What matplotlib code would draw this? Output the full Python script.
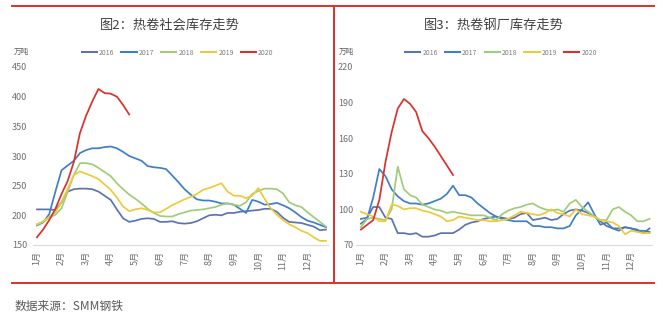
import numpy as np
import matplotlib
matplotlib.use("Agg")
import matplotlib.pyplot as plt
from matplotlib.lines import Line2D

plt.rcParams['font.family'] = ['Noto Sans CJK SC', 'DejaVu Sans']

# weekly samples, x in months from January (step 0.25)
months = ['1月', '2月', '3月', '4月', '5月', '6月', '7月', '8月', '9月', '10月', '11月', '12月']
years = ['2016', '2017', '2018', '2019', '2020']
colors = ['#5b74b0', '#3f7fc4', '#9fcd7a', '#ecca3a', '#d9312b']

# social inventory of hot rolled coil (10k t)
social_2016 = [210, 210, 210, 209, 222, 240, 244, 245, 245, 244, 240, 233,
               226, 210, 195, 189, 191, 194, 195, 194, 189, 189, 190, 187,
               186, 187, 190, 195, 200, 201, 200, 204, 204, 206, 207, 208,
               209, 211, 211, 206, 196, 189, 188, 187, 184, 181, 175, 176]
social_2017 = [183, 188, 202, 240, 276, 284, 292, 305, 310, 313, 313, 315,
               316, 313, 307, 300, 296, 292, 283, 281, 280, 278, 267, 256,
               244, 235, 227, 225, 225, 223, 220, 220, 218, 211, 204, 226,
               223, 218, 219, 221, 217, 212, 205, 197, 191, 188, 184, 180]
social_2018 = [184, 189, 196, 201, 212, 240, 268, 288, 288, 286, 280, 273,
               266, 254, 244, 235, 228, 220, 211, 204, 199, 198, 198, 202,
               205, 208, 209, 210, 212, 214, 218, 220, 218, 216, 222, 236,
               241, 245, 245, 244, 237, 222, 217, 214, 205, 197, 189, 181]
social_2019 = [185, 190, 197, 205, 222, 245, 268, 274, 270, 266, 261, 252,
               243, 230, 215, 207, 210, 212, 209, 205, 205, 211, 217, 222,
               227, 231, 236, 243, 246, 250, 254, 240, 233, 233, 229, 233,
               246, 228, 212, 201, 192, 185, 180, 174, 170, 163, 157, 157]
social_2020 = [163, 176, 192, 211, 236, 258, 290, 339, 368, 392, 413, 406,
               405, 400, 386, 370]

# steel mill inventory of hot rolled coil (10k t)
mill_2016 = [92, 93, 102, 102, 93, 92, 80, 80, 79, 80, 77, 77,
             78, 80, 80, 80, 83, 87, 89, 90, 92, 93, 94, 93,
             92, 93, 96, 97, 91, 92, 93, 91, 92, 96, 99, 100,
             99, 97, 94, 90, 86, 84, 84, 85, 84, 83, 80, 84]
mill_2017 = [88, 92, 110, 134, 128, 117, 111, 107, 105, 105, 104, 105,
             107, 109, 113, 120, 112, 112, 110, 105, 101, 97, 94, 92,
             91, 90, 90, 90, 86, 86, 85, 85, 84, 84, 86, 95,
             100, 106, 96, 87, 89, 84, 82, 85, 84, 82, 82, 81]
mill_2018 = [85, 92, 93, 92, 91, 100, 136, 117, 112, 110, 104, 102,
             100, 99, 97, 98, 97, 96, 95, 95, 95, 93, 91, 96,
             99, 101, 102, 104, 105, 102, 100, 99, 100, 98, 105, 108,
             102, 98, 94, 91, 91, 100, 102, 98, 95, 90, 90, 92]
mill_2019 = [98, 96, 94, 90, 90, 104, 103, 100, 101, 101, 99, 98,
             96, 94, 90, 91, 94, 93, 92, 91, 91, 90, 90, 91,
             92, 95, 98, 97, 96, 95, 97, 100, 97, 96, 94, 100,
             96, 95, 94, 91, 90, 89, 86, 79, 82, 81, 80, 80]
mill_2020 = [83, 87, 91, 108, 140, 165, 185, 193, 189, 182, 166, 160,
             153, 145, 137, 129]

W, H = 663, 324
fig = plt.figure(figsize=(W / 100, H / 100), dpi=100)


def px_axes(x0, x1, y_top, y_bot):
    return fig.add_axes([x0 / W, 1 - y_bot / H, (x1 - x0) / W, (y_bot - y_top) / H])


def draw_panel(ax, series, ylim, yticks, xlim, ypad):
    for name, vals, c in zip(years, series, colors):
        x = np.arange(len(vals)) * 0.25
        ax.plot(x, vals, color=c, lw=1.25, label=name, solid_joinstyle='round')
    ax.set_xlim(*xlim)
    ax.set_ylim(*ylim)
    ax.set_yticks(yticks)
    ax.set_xticks(np.arange(12))
    ax.set_xticklabels(months, rotation=90)
    for s in ['top', 'right', 'left']:
        ax.spines[s].set_visible(False)
    ax.spines['bottom'].set_color('#d9d9d9')
    ax.spines['bottom'].set_linewidth(0.8)
    ax.tick_params(axis='both', length=0, labelsize=6.5, colors='#6f6f6f')
    ax.tick_params(axis='y', pad=ypad)
    ax.tick_params(axis='x', pad=4)
    leg = ax.legend(ncol=5, loc='center', bbox_to_anchor=(0.49, 1.08), frameon=False,
                    fontsize=5, handlelength=2.2, columnspacing=1.0, handletextpad=0.3,
                    labelcolor='#7f7f7f')
    for line in leg.get_lines():
        line.set_linewidth(1.5)


ax1 = px_axes(33, 328, 67, 245)
draw_panel(ax1, [social_2016, social_2017, social_2018, social_2019, social_2020],
           (150, 450), np.arange(150, 451, 50), (-0.16, 11.83), 4)

ax2 = px_axes(356, 652, 67, 245)
draw_panel(ax2, [mill_2016, mill_2017, mill_2018, mill_2019, mill_2020],
           (70, 220), np.arange(70, 221, 30), (-0.2, 11.85), 2)

# titles and units
fig.text(170 / W, 1 - 25 / H, '图2：热卷社会库存走势', ha='center', va='center',
         fontsize=9.5, color='#404040')
fig.text(494 / W, 1 - 25 / H, '图3：热卷钢厂库存走势', ha='center', va='center',
         fontsize=9.5, color='#404040')
fig.text(14 / W, 1 - 52 / H, '万吨', ha='left', va='center', fontsize=5.5, color='#595959')
fig.text(339 / W, 1 - 52 / H, '万吨', ha='left', va='center', fontsize=5.5, color='#595959')

# red frame
red = '#d9312b'
for y in (6, 283):
    fig.add_artist(Line2D([12 / W, 654 / W], [1 - y / H, 1 - y / H], color=red, lw=1.4))
fig.add_artist(Line2D([334 / W, 334 / W], [1 - 6 / H, 1 - 283 / H], color=red, lw=1.4))

fig.text(15 / W, 1 - 306 / H, '数据来源：SMM钢铁', ha='left', va='center',
         fontsize=8.5, color='#595959', style='italic')

fig.savefig('out.png', dpi=100, facecolor='white')
